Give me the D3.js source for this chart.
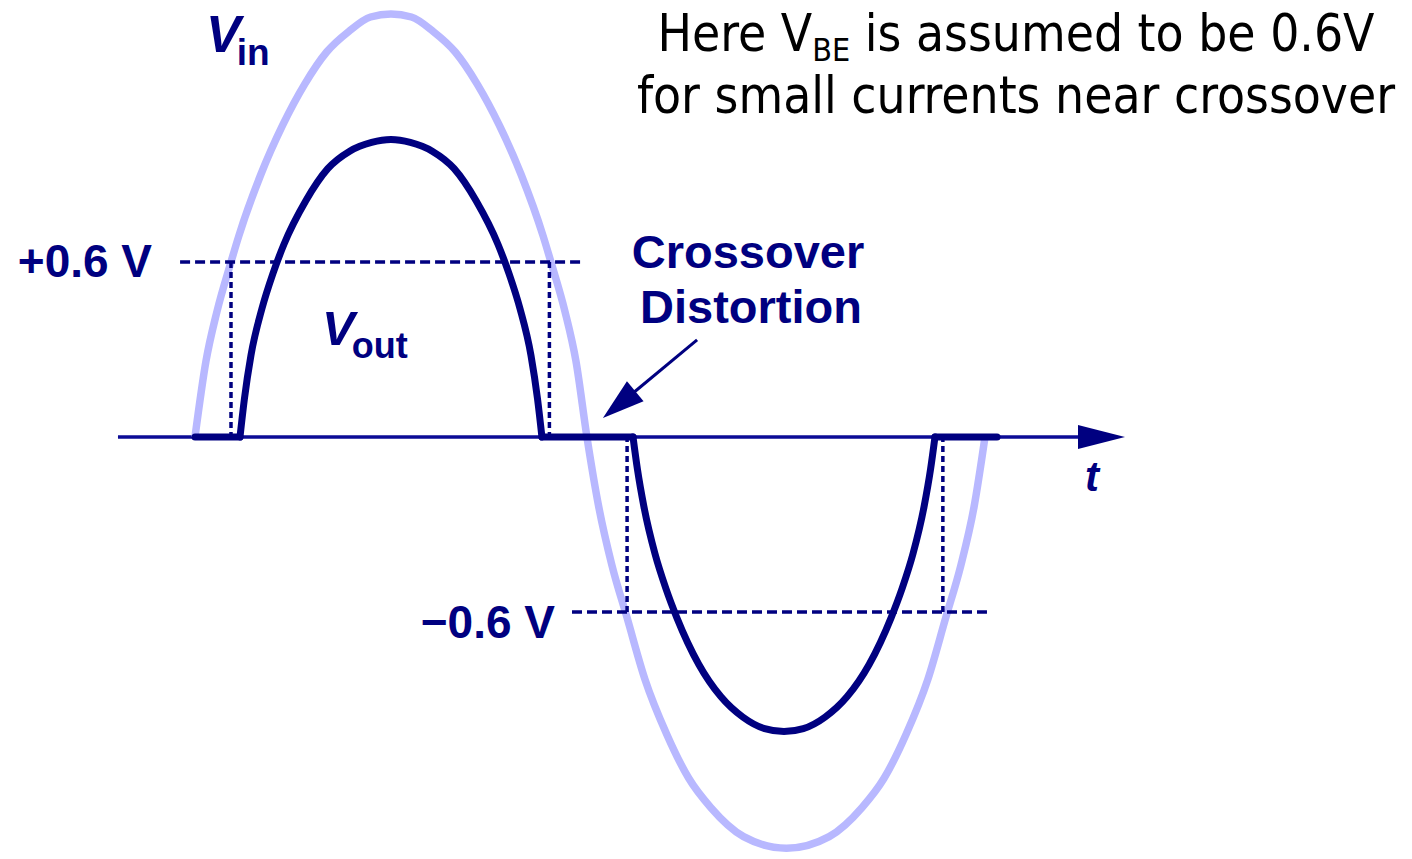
<!DOCTYPE html>
<html>
<head>
<meta charset="utf-8">
<script src="https://cdnjs.cloudflare.com/ajax/libs/d3/7.8.5/d3.min.js"></script>
<style>
body { margin: 0; background: #fff; }
svg { display: block; }
</style>
</head>
<body>
<svg width="1412" height="859"></svg>
<script>
// x = phase of the input (degrees), y = voltage (V)
const vinPhase = [0, 5, 10, 16.4, 20, 30, 40, 50, 60, 70, 80, 89.3, 98.6, 108.6, 118.6, 128.6, 138.6, 148.6, 158.6, 162.2, 168.6, 173.6, 178.6,
                  184, 190, 196.9, 205, 215, 225, 235, 250, 269.5, 289, 304, 314, 324, 334, 342.1, 349, 355, 360];
const vinVolt  = [0, 0.26, 0.43, 0.60, 0.69, 0.90, 1.07, 1.21, 1.32, 1.39, 1.44, 1.45, 1.44, 1.39, 1.32, 1.21, 1.07, 0.90, 0.69, 0.60, 0.43, 0.26, 0,
                  -0.24, -0.44, -0.62, -0.83, -1.02, -1.17, -1.27, -1.37, -1.41, -1.37, -1.27, -1.17, -1.02, -0.83, -0.62, -0.44, -0.24, 0];

const voutPosPhase = [20.5, 22.5, 25.5, 30.5, 35.5, 40.5, 50.5, 60.5, 70.5, 80.5, 89.3, 98.1, 108.1, 118.1, 128.1, 138.1, 143.1, 148.1, 153.1, 156.1, 158.1];
const voutPosVolt  = [0, 0.13, 0.28, 0.44, 0.56, 0.66, 0.81, 0.92, 0.98, 1.01, 1.02, 1.01, 0.98, 0.92, 0.81, 0.66, 0.56, 0.44, 0.28, 0.13, 0];
const voutNegPhase = [199.6, 201.6, 204.6, 209.6, 214.6, 219.6, 229.6, 239.6, 249.6, 259.6, 268.4, 277.2, 287.2, 297.2, 307.2, 317.2, 322.2, 327.2, 332.2, 335.2, 337.2];
const voutNegVolt  = [0, -0.11, -0.24, -0.40, -0.52, -0.62, -0.78, -0.89, -0.96, -1.00, -1.01, -1.00, -0.96, -0.89, -0.78, -0.62, -0.52, -0.40, -0.24, -0.11, 0];
// dead zone, where both transistors are off
const voutFlat = [[0, 20.5], [158.1, 199.6], [337.2, 365.5]];

// V_BE threshold guides
const thresholds = [
  { v: 0.6,  from: -6.8,  to: 176.4, drops: [16.4, 161.5], label: "+0.6 V" },
  { v: -0.6, from: 171.8, to: 360.9, drops: [196.9, 340.8], label: "\u22120.6 V" }
];

const axisRange = [-35.1, 423.8];
const arrowFrom = [228.8, 0.333];
const arrowTo = [185.9, 0.065];

const noteLines = ["Here V", "BE", " is assumed to be 0.6V", "for small currents near crossover"];

const navy = "#000080";
const light = "#b8b8ff";

const svg = d3.select("svg");

const x = d3.scaleLinear().domain([0, 360]).range([195, 985]);
const y = d3.scaleLinear().domain([-1.5, 1.5]).range([874.5, -0.5]);

const line = d3.line()
  .x(d => x(d[0]))
  .y(d => y(d[1]))
  .curve(d3.curveMonotoneX);

// time axis with arrow
const axisG = svg.append("g");
axisG.append("line")
  .attr("x1", x(axisRange[0])).attr("x2", x(axisRange[1]) - 20)
  .attr("y1", y(0)).attr("y2", y(0))
  .attr("stroke", "#0c0c96").attr("stroke-width", 3.5);
const tip = x(axisRange[1]);
axisG.append("path")
  .attr("d", `M${tip},${y(0)} L${tip - 47},${y(0) - 12} L${tip - 47},${y(0) + 12} Z`)
  .attr("fill", navy);
svg.append("text")
  .attr("x", tip - 33).attr("y", y(0) + 54)
  .attr("font-family", "Liberation Sans, Arial, sans-serif")
  .attr("font-weight", "bold").attr("font-style", "italic")
  .attr("font-size", 42).attr("fill", navy).attr("text-anchor", "middle")
  .text("t");

// input sine
svg.append("path")
  .datum(d3.zip(vinPhase, vinVolt))
  .attr("d", line)
  .attr("fill", "none").attr("stroke", light).attr("stroke-width", 7.5);

// threshold guides
const guides = svg.append("g")
  .attr("stroke", navy).attr("stroke-width", 3.5).attr("fill", "none");
thresholds.forEach(t => {
  guides.append("line")
    .attr("x1", x(t.from)).attr("x2", x(t.to))
    .attr("y1", y(t.v)).attr("y2", y(t.v))
    .attr("stroke-dasharray", "10,5");
  t.drops.forEach(p => {
    guides.append("line")
      .attr("x1", x(p)).attr("x2", x(p))
      .attr("y1", y(t.v)).attr("y2", y(0))
      .attr("stroke-dasharray", "6,4");
  });
});

// output waveform
const outG = svg.append("g")
  .attr("fill", "none").attr("stroke", navy).attr("stroke-width", 7)
  .attr("stroke-linecap", "round").attr("stroke-linejoin", "round");
outG.append("path").datum(d3.zip(voutPosPhase, voutPosVolt)).attr("d", line);
outG.append("path").datum(d3.zip(voutNegPhase, voutNegVolt)).attr("d", line);
voutFlat.forEach(f => {
  outG.append("line")
    .attr("x1", x(f[0])).attr("x2", x(f[1]))
    .attr("y1", y(0)).attr("y2", y(0));
});

// labels
const bold = (sel) => sel
  .attr("font-family", "Liberation Sans, Arial, sans-serif")
  .attr("font-weight", "bold").attr("fill", navy);

thresholds.forEach((t, i) => {
  svg.append("text").call(bold)
    .attr("x", i === 0 ? x(t.from) - 28 : x(t.from) - 17)
    .attr("y", y(t.v) + (i === 0 ? 15 : 26))
    .attr("font-size", 46).attr("text-anchor", "end")
    .text(t.label);
});

const vinLabel = svg.append("text").call(bold).attr("x", 206).attr("y", 52);
vinLabel.append("tspan").attr("font-size", 52).attr("font-style", "italic").text("V");
vinLabel.append("tspan").attr("font-size", 37).attr("dy", 13).attr("dx", -4).text("in");

const voutLabel = svg.append("text").call(bold).attr("x", 322).attr("y", 345);
voutLabel.append("tspan").attr("font-size", 49).attr("font-style", "italic").text("V");
voutLabel.append("tspan").attr("font-size", 36).attr("dy", 13).attr("dx", -3).text("out");

const cx = svg.append("text").call(bold)
  .attr("font-size", 47).attr("text-anchor", "middle");
cx.append("tspan").attr("x", 748).attr("y", 268).text("Crossover");
cx.append("tspan").attr("x", 751).attr("y", 323).text("Distortion");

// annotation arrow
const ax0 = x(arrowFrom[0]), ay0 = y(arrowFrom[1]);
const ax1 = x(arrowTo[0]), ay1 = y(arrowTo[1]);
const len = Math.hypot(ax1 - ax0, ay1 - ay0);
const ux = (ax1 - ax0) / len, uy = (ay1 - ay0) / len;
const hl = 42, hw = 13;
const bx = ax1 - ux * hl, by = ay1 - uy * hl;
svg.append("line")
  .attr("x1", ax0).attr("y1", ay0).attr("x2", bx + ux * 4).attr("y2", by + uy * 4)
  .attr("stroke", navy).attr("stroke-width", 3);
svg.append("path")
  .attr("d", `M${ax1},${ay1} L${bx - uy * hw},${by + ux * hw} L${bx + uy * hw},${by - ux * hw} Z`)
  .attr("fill", navy);

// note, top right
const note = svg.append("text")
  .attr("font-family", "DejaVu Sans Condensed, DejaVu Sans, sans-serif")
  .attr("font-stretch", "condensed")
  .attr("font-size", 51).attr("fill", "#000").attr("text-anchor", "middle");
const l1 = note.append("tspan").attr("x", 1016).attr("y", 51);
l1.append("tspan").text(noteLines[0]);
l1.append("tspan").attr("font-size", 32).attr("dy", 10).text(noteLines[1]);
l1.append("tspan").attr("dy", -10).text(noteLines[2]);
note.append("tspan").attr("x", 1016).attr("y", 113).text(noteLines[3]);
</script>
</body>
</html>
